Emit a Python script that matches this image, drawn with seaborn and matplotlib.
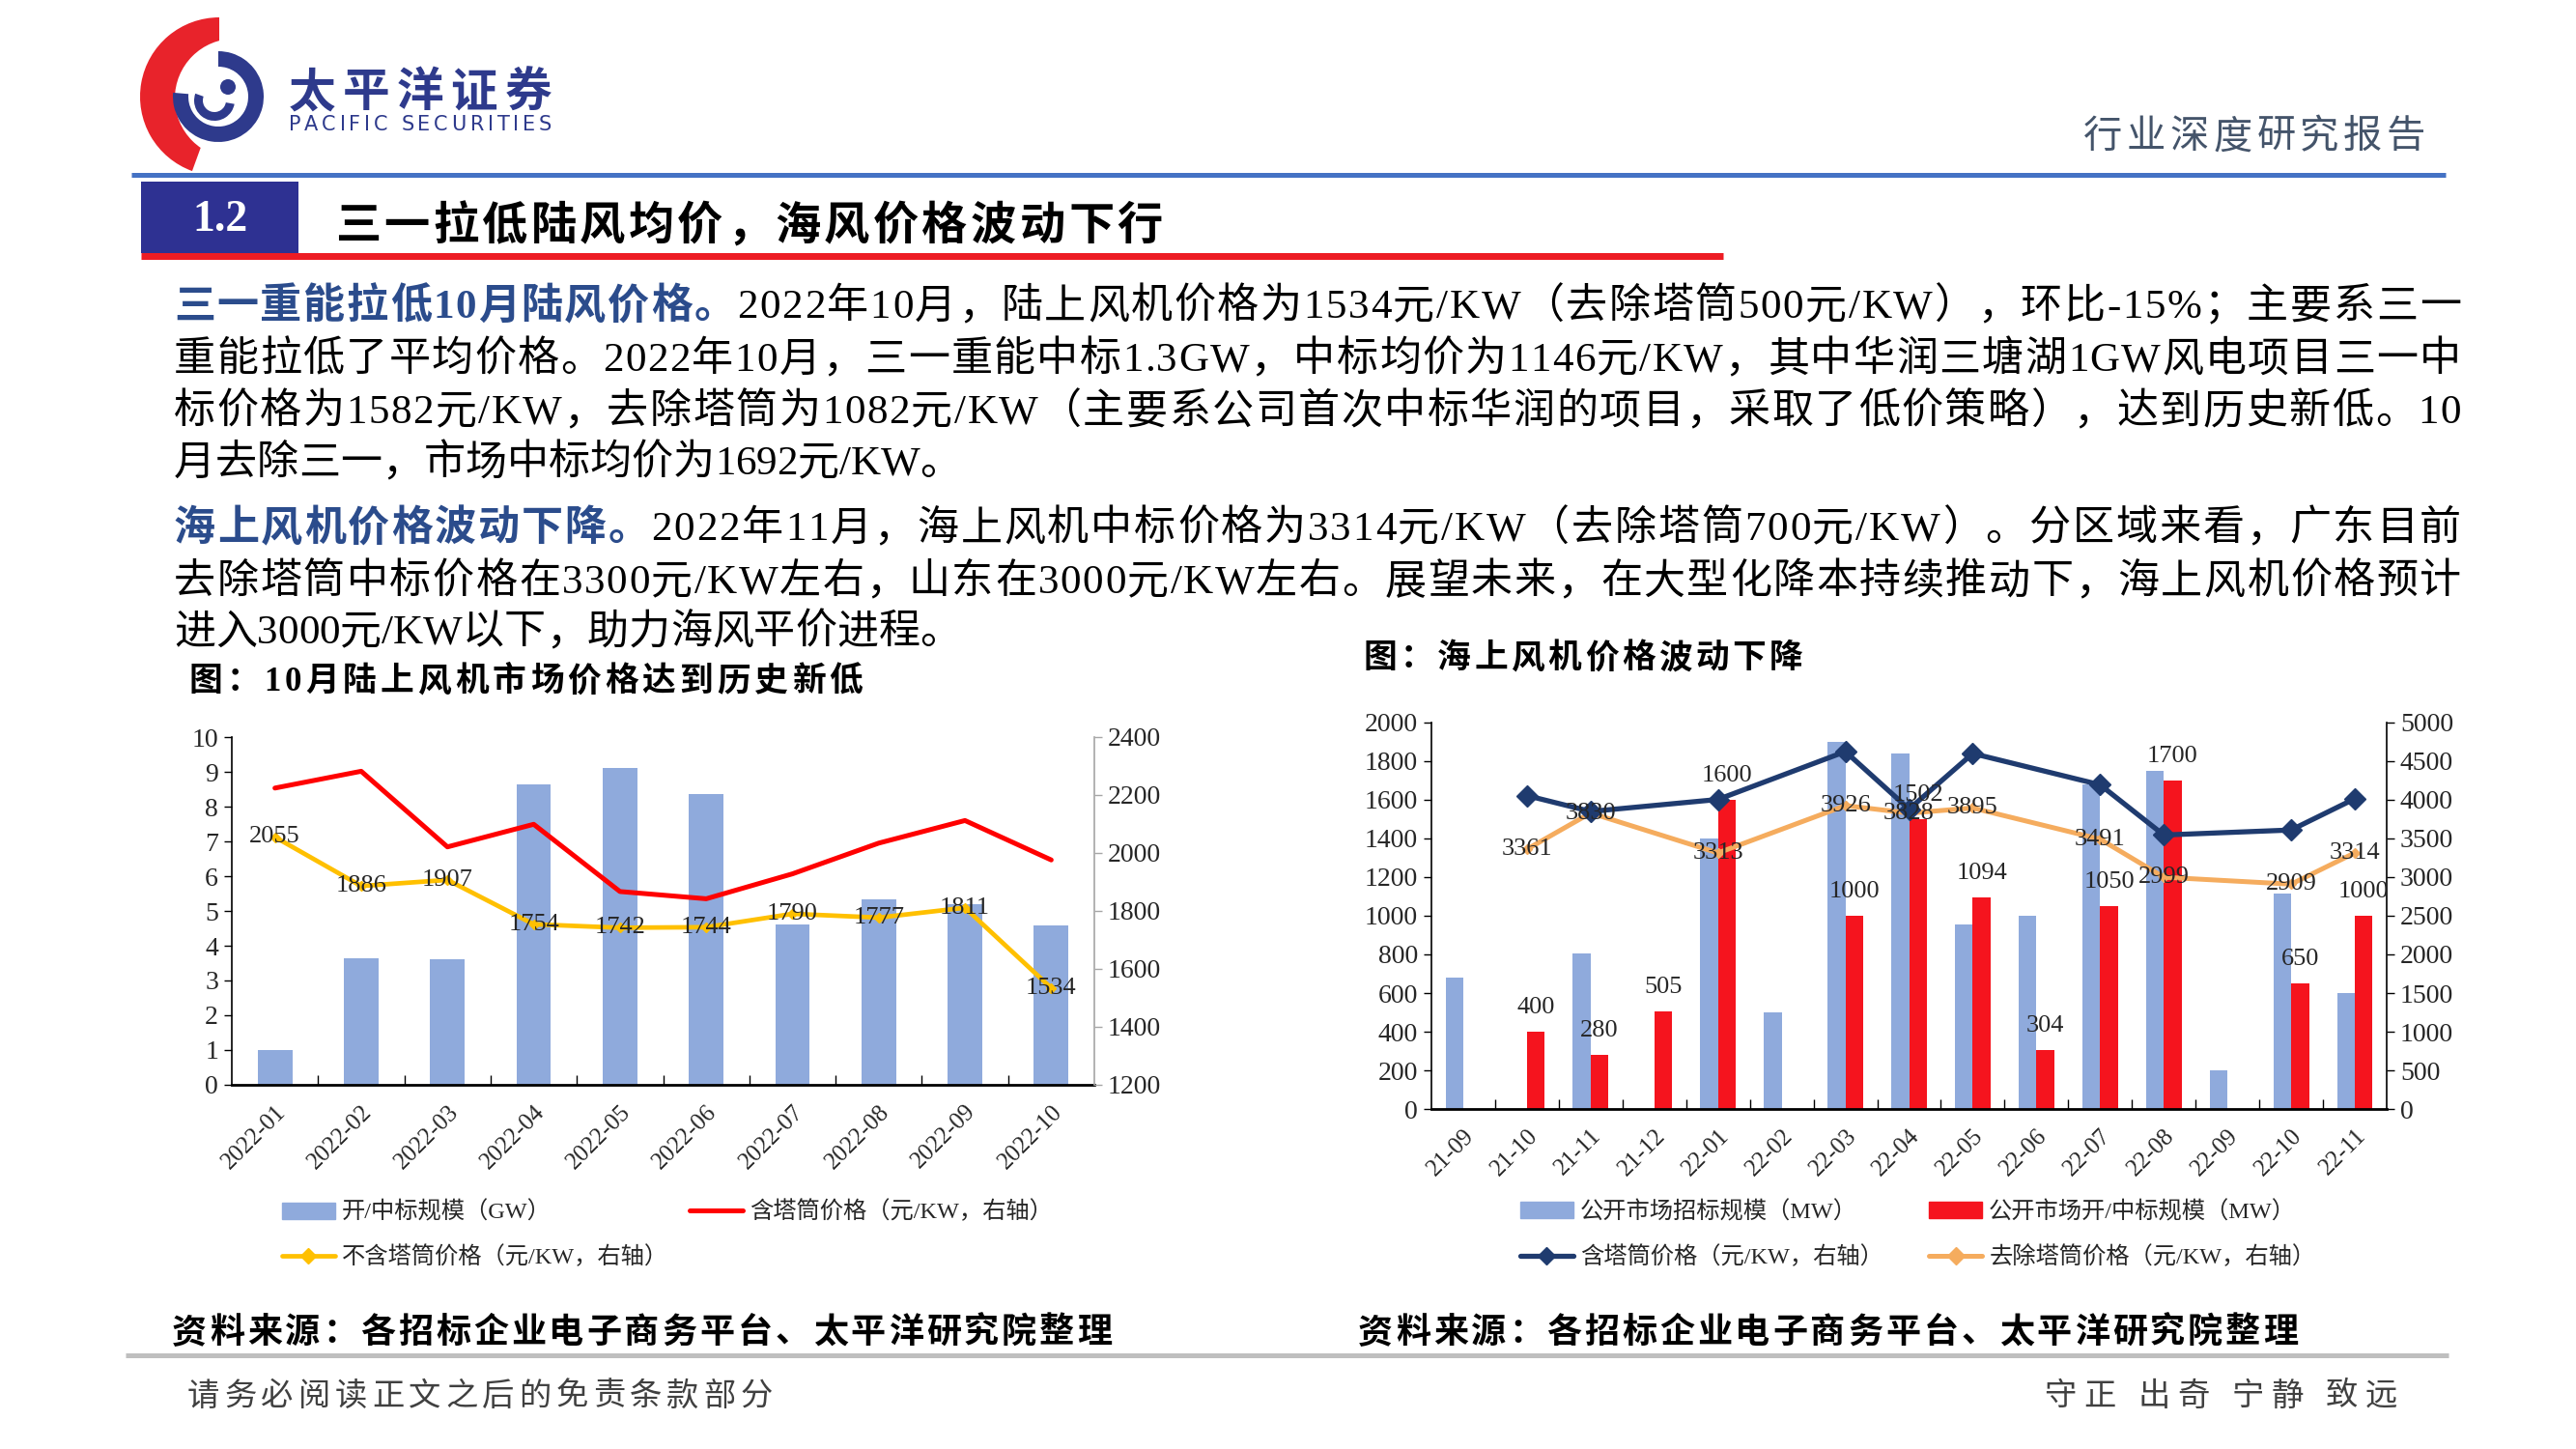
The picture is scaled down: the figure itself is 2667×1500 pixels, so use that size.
import numpy as np
import pandas as pd
import matplotlib
matplotlib.use('Agg')
import matplotlib.pyplot as plt
import seaborn as sns
from matplotlib.patches import Patch, Wedge, Circle, Rectangle
from matplotlib.lines import Line2D
from matplotlib.font_manager import FontProperties, findfont
from matplotlib.ft2font import FT2Font

# ---- data: left chart (onshore) ----
left_months = ['2022-01', '2022-02', '2022-03', '2022-04', '2022-05',
               '2022-06', '2022-07', '2022-08', '2022-09', '2022-10']
left_scale_gw = [1.0, 3.65, 3.62, 8.65, 9.1, 8.35, 4.6, 5.33, 5.2, 4.58]
left_price_tower = [2224, 2282, 2021, 2099, 1867, 1842, 1928, 2034, 2112, 1976]
left_price_no_tower = [2055, 1886, 1907, 1754, 1742, 1744, 1790, 1777, 1811, 1534]

# ---- data: right chart (offshore) ----
right_months = ['21-09', '21-10', '21-11', '21-12', '22-01', '22-02', '22-03', '22-04',
                '22-05', '22-06', '22-07', '22-08', '22-09', '22-10', '22-11']
right_tender_mw = [680, 0, 805, 0, 1400, 500, 1900, 1840, 955, 1000, 1680, 1750, 200, 1115, 600]
right_award_mw = [0, 400, 280, 505, 1600, 0, 1000, 1502, 1094, 304, 1050, 1700, 0, 650, 1000]
nan = np.nan
right_price_tower = [nan, 4055, 3850, nan, 4005, nan, 4625, 3880, 4600, nan, 4195, 3545, nan, 3610, 4015]
right_price_no_tower = [nan, 3361, 3830, nan, 3313, nan, 3926, 3828, 3895, nan, 3491, 2999, nan, 2909, 3314]

BLUE_BAR = '#8faadc'
RED = '#ff0000'
YELLOW = '#ffc000'
RED_BAR = '#f5141e'
NAVY = '#1f3b6f'
ORANGE = '#f5ac5e'
HL = '#2b4c8c'

sns.set_theme(style='white')
CJK = 'Noto Sans CJK SC'
LATIN = 'Liberation Serif'
plt.rcParams['font.family'] = [LATIN, CJK]

W, H = 2667, 1500
fig = plt.figure(figsize=(W / 100, H / 100), dpi=100)
fig.patch.set_facecolor('white')
ax0 = fig.add_axes([0, 0, 1, 1])
ax0.set_xlim(0, W)
ax0.set_ylim(H, 0)
ax0.axis('off')

# ---- per-character text layout (justified lines) ----
_fonts = {}


def _ft(family, weight):
    key = (family, weight)
    if key not in _fonts:
        path = findfont(FontProperties(family=family, weight=weight))
        _fonts[key] = FT2Font(path, hinting_factor=1)
    return _fonts[key]


def _advance(ch, size, weight, latin):
    for fam in (latin, CJK):
        f = _ft(fam, weight)
        if f.get_char_index(ord(ch)):
            f.set_size(size, 100)
            g = f.load_char(ord(ch))
            return fam, g.linearHoriAdvance / 65536
    return CJK, size * 100 / 72


def put_line(x0, yc, segs, size, width=None, latin=LATIN):
    items = []
    for text, color, weight in segs:
        for ch in text:
            fam, adv = _advance(ch, size, weight, latin)
            items.append((ch, color, weight, fam, adv))
    gap = 0.0
    if width is not None and len(items) > 1:
        gap = (width - sum(it[4] for it in items)) / (len(items) - 1)
    y = yc + 0.38 * size * 100 / 72
    x = x0
    for ch, color, weight, fam, adv in items:
        if not ch.isspace():
            ax0.text(x, y, ch, fontsize=size, family=fam, weight=weight,
                     color=color, ha='left', va='baseline')
        x += adv + gap


# ---- header ----
ax0.add_patch(Wedge((227, 100), 82, 110, 270, color='#e8232b', lw=0))
ax0.add_patch(Circle((243, 102), 62, color='white', lw=0))
ax0.add_patch(Wedge((226, 100), 47, -90, 185, width=16, color='#2e3a8c', lw=0))
ax0.add_patch(Wedge((222, 104), 21, 10, 200, width=9, color='#2e3a8c', lw=0))
ax0.add_patch(Circle((236, 90), 8, color='#2e3a8c', lw=0))
put_line(299, 92, [('太平洋证券', '#2e3a8c', 'bold')], 35, width=272)
put_line(299, 127, [('PACIFIC SECURITIES', '#2e3a8c', 'normal')], 15, width=272, latin='DejaVu Sans')
put_line(2157, 138, [('行业深度研究报告', '#44546a', 'normal')], 29, width=354)
ax0.plot([136, 2532], [180.5, 180.5], color='#4472c4', lw=5 * 0.72, solid_capstyle='butt')

ax0.add_patch(Rectangle((146, 188), 163, 74, color='#2e3192', lw=0))
ax0.text(228, 228, '1.2', fontsize=33, weight='bold', color='white', ha='center', va='center',
         family=LATIN)
ax0.plot([146, 1784], [264.5, 264.5], color='#ed1c24', lw=7 * 0.72, solid_capstyle='butt')
put_line(347, 230, [('三一拉低陆风均价，海风价格波动下行', 'black', 'bold')], 34, width=857)

# ---- body text ----
BODY = 31
X0, X1 = 180, 2548
body = [
    (313, [('三一重能拉低10月陆风价格。', HL, 'bold'),
           ('2022年10月，陆上风机价格为1534元/KW（去除塔筒500元/KW），环比-15%；主要系三一', 'black', 'normal')], True),
    (368, [('重能拉低了平均价格。2022年10月，三一重能中标1.3GW，中标均价为1146元/KW，其中华润三塘湖1GW风电项目三一中', 'black', 'normal')], True),
    (422, [('标价格为1582元/KW，去除塔筒为1082元/KW（主要系公司首次中标华润的项目，采取了低价策略），达到历史新低。10', 'black', 'normal')], True),
    (475, [('月去除三一，市场中标均价为1692元/KW。', 'black', 'normal')], False),
    (543, [('海上风机价格波动下降。', HL, 'bold'),
           ('2022年11月，海上风机中标价格为3314元/KW（去除塔筒700元/KW）。分区域来看，广东目前', 'black', 'normal')], True),
    (598, [('去除塔筒中标价格在3300元/KW左右，山东在3000元/KW左右。展望未来，在大型化降本持续推动下，海上风机价格预计', 'black', 'normal')], True),
    (650, [('进入3000元/KW以下，助力海风平价进程。', 'black', 'normal')], False),
]
for yc, segs, just in body:
    put_line(X0, yc, segs, BODY, width=(X1 - X0) if just else None)

put_line(196, 702, [('图：10月陆上风机市场价格达到历史新低', 'black', 'bold')], 25, width=697)
put_line(1412, 678, [('图：海上风机价格波动下降', 'black', 'bold')], 25, width=454)

# ---- footer ----
put_line(178, 1376, [('资料来源：各招标企业电子商务平台、太平洋研究院整理', 'black', 'bold')], 26, width=973)
put_line(1406, 1376, [('资料来源：各招标企业电子商务平台、太平洋研究院整理', 'black', 'bold')], 26, width=973)
ax0.plot([130, 2535], [1402.5, 1402.5], color='#bfbfbf', lw=5 * 0.72, solid_capstyle='butt')
put_line(194, 1442, [('请务必阅读正文之后的免责条款部分', '#404040', 'normal')], 24, width=606)
put_line(2116, 1442, [('守正 出奇 宁静 致远', '#404040', 'normal')], 24, width=366)


def px_axes(x0, y0, x1, y1):
    return fig.add_axes([x0 / W, 1 - y1 / H, (x1 - x0) / W, (y1 - y0) / H])


def style_axes(ax, ax2, n, right_color):
    ax.set_xlim(-0.5, n - 0.5)
    ax.set_xlabel('')
    ax.set_ylabel('')
    ax.spines['top'].set_visible(False)
    ax.spines['right'].set_visible(False)
    ax.spines['left'].set_color('black')
    ax.spines['left'].set_linewidth(1.2)
    ax.spines['bottom'].set_color('black')
    ax.spines['bottom'].set_linewidth(2)
    for s in ('top', 'left', 'bottom'):
        ax2.spines[s].set_visible(False)
    ax2.spines['right'].set_color(right_color)
    ax2.spines['right'].set_linewidth(1.2)
    ax.tick_params(axis='y', left=True, direction='out', length=6, width=1, color='black',
                   labelsize=20, pad=4)
    ax2.tick_params(axis='y', right=True, direction='out', length=6, width=1, color=right_color,
                    labelsize=20, pad=4)
    ax.set_xticks(np.arange(0.5, n - 1, 1), minor=True)
    ax.tick_params(axis='x', which='minor', bottom=True, direction='in', length=7, width=1,
                   color='black')
    ax.tick_params(axis='x', which='major', bottom=True, length=0, labelsize=18, pad=12)
    plt.setp(ax.get_xticklabels(), rotation=45, ha='right', va='top', rotation_mode='anchor')
    ax.grid(False)
    ax2.grid(False)


# ---- left chart ----
axl = px_axes(240, 763, 1133, 1123)
df_l = pd.DataFrame({'month': left_months, 'gw': left_scale_gw})
sns.barplot(data=df_l, x='month', y='gw', color=BLUE_BAR, saturation=1, width=0.4,
            errorbar=None, linewidth=0, ax=axl)
axl2 = axl.twinx()
xl = np.arange(len(left_months))
axl2.plot(xl, left_price_tower, color=RED, lw=3.6, zorder=3)
axl2.plot(xl, left_price_no_tower, color=YELLOW, lw=3.4, marker='D', markersize=5, zorder=4)
for i, v in enumerate(left_price_no_tower):
    axl2.text(i, v, str(v), ha='center', va='center', fontsize=19, family=LATIN, zorder=5)
axl.set_ylim(0, 10)
axl.set_yticks(range(0, 11))
axl2.set_ylim(1200, 2400)
axl2.set_yticks(range(1200, 2401, 200))
style_axes(axl, axl2, len(left_months), '#a6a6a6')

leg_prop = FontProperties(family=[LATIN, CJK], size=17.5)
h_l = [Patch(color=BLUE_BAR),
       Line2D([], [], color=YELLOW, lw=3.4, marker='D', markersize=8),
       Line2D([], [], color=RED, lw=3.6)]
lab_l = ['开/中标规模（GW）', '不含塔筒价格（元/KW，右轴）', '含塔筒价格（元/KW，右轴）']
fig.legend(h_l, lab_l, loc='upper left', bbox_to_anchor=(292 / W, 1 - 1243 / H), ncol=2,
           frameon=False, prop=leg_prop, handlelength=2.25, handleheight=0.7,
           handletextpad=0.3, columnspacing=0.9, labelspacing=0.95, borderpad=0,
           borderaxespad=0)

# ---- right chart ----
axr = px_axes(1482, 748, 2471, 1148)
n_r = len(right_months)
df_r = pd.DataFrame({'month': right_months * 2,
                     'mw': right_tender_mw + right_award_mw,
                     'series': ['公开市场招标规模（MW）'] * n_r + ['公开市场开/中标规模（MW）'] * n_r})
sns.barplot(data=df_r, x='month', y='mw', hue='series',
            hue_order=['公开市场招标规模（MW）', '公开市场开/中标规模（MW）'],
            palette=[BLUE_BAR, RED_BAR], saturation=1, width=0.56, gap=0, dodge=True,
            errorbar=None, linewidth=0, legend=False, ax=axr)
axr2 = axr.twinx()
xr = np.arange(n_r)
pt = np.array(right_price_tower, dtype=float)
pn = np.array(right_price_no_tower, dtype=float)
m1 = ~np.isnan(pt)
m2 = ~np.isnan(pn)
axr2.plot(xr[m2], pn[m2], color=ORANGE, lw=3.6, marker='D', markersize=5, zorder=3)
axr2.plot(xr[m1], pt[m1], color=NAVY, lw=3.8, marker='D', markersize=11, zorder=4)
for i in xr[m2]:
    axr2.text(i, pn[i], f'{int(pn[i])}', ha='center', va='center', fontsize=19, family=LATIN,
              zorder=6)
for i, v in enumerate(right_award_mw):
    if v > 0:
        axr2.annotate(str(v), (i + 0.14, v), xycoords=axr.transData, xytext=(0, 18),
                      textcoords='offset points', ha='center', va='center', fontsize=19,
                      family=LATIN, zorder=6)
axr.set_ylim(0, 2000)
axr.set_yticks(range(0, 2001, 200))
axr2.set_ylim(0, 5000)
axr2.set_yticks(range(0, 5001, 500))
style_axes(axr, axr2, n_r, 'black')

h_r = [Patch(color=BLUE_BAR),
       Line2D([], [], color=NAVY, lw=3.8, marker='D', markersize=9),
       Patch(color=RED_BAR),
       Line2D([], [], color=ORANGE, lw=3.6, marker='D', markersize=9)]
lab_r = ['公开市场招标规模（MW）', '含塔筒价格（元/KW，右轴）',
         '公开市场开/中标规模（MW）', '去除塔筒价格（元/KW，右轴）']
fig.legend(h_r, lab_r, loc='upper left', bbox_to_anchor=(1574 / W, 1 - 1243 / H), ncol=2,
           frameon=False, prop=leg_prop, handlelength=2.25, handleheight=0.7,
           handletextpad=0.3, columnspacing=1.95, labelspacing=0.95, borderpad=0,
           borderaxespad=0)

fig.savefig('out.png', dpi=100, facecolor='white')
